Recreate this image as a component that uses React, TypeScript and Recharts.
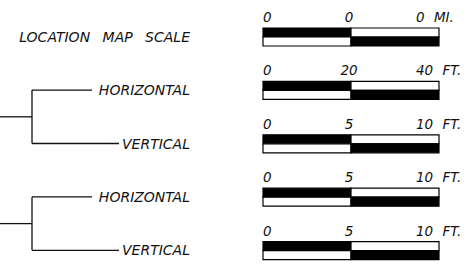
import React from "react";
import { Bar, BarChart, LabelList, XAxis, YAxis } from "recharts";

// one row per scale bar
const rowNames = ["LOCATION MAP SCALE", "HORIZONTAL", "VERTICAL", "HORIZONTAL", "VERTICAL"];
const startTicks = ["0", "0", "0", "0", "0"];
const midTicks = ["0", "20", "5", "5", "5"];
const endTicks = ["0", "40", "10", "10", "10"];
const units = ["MI.", "FT.", "FT.", "FT.", "FT."];
const firstHalf = [1, 1, 1, 1, 1];
const secondHalf = [1, 1, 1, 1, 1];

const data = rowNames.map((name, i) => ({
    row: `r${i}`,
    name,
    a: firstHalf[i],
    b: secondHalf[i],
}));

const W = 474;
const H = 280;
const MARGIN = { top: 10, right: 35, bottom: 3, left: 8 };
const BAND = (H - MARGIN.top - MARGIN.bottom) / rowNames.length;

const labelFont = {
    fontFamily: "DejaVu Sans",
    fontStyle: "italic" as const,
    fontSize: 14,
    fill: "#111",
};
const numFont = {
    fontFamily: "DejaVu Sans",
    fontStyle: "italic" as const,
    fontSize: 13.5,
    fill: "#111",
};

function RowTick(props: any) {
    const { y, index } = props;
    const name = rowNames[index];
    const line = { stroke: "#111", strokeWidth: 1.3 };
    return (
        <g>
            <text
                x={190}
                y={y}
                dy={5}
                textAnchor="end"
                {...labelFont}
                wordSpacing={index === 0 ? 8 : 0}
            >
                {name}
            </text>
            {name === "HORIZONTAL" && (
                <g>
                    <line x1={32} y1={y} x2={92} y2={y} {...line} />
                    <line x1={32} y1={y} x2={32} y2={y + BAND} {...line} />
                    <line x1={0} y1={y + BAND / 2} x2={32} y2={y + BAND / 2} {...line} />
                </g>
            )}
            {name === "VERTICAL" && <line x1={32} y1={y} x2={119} y2={y} {...line} />}
        </g>
    );
}

function StartMidLabel(props: any) {
    const { x, y, width, index } = props;
    return (
        <g>
            <text x={x} y={y - 6} {...numFont}>
                {startTicks[index]}
            </text>
            <text x={x + width - 2} y={y - 6} textAnchor="middle" {...numFont}>
                {midTicks[index]}
            </text>
        </g>
    );
}

function EndLabel(props: any) {
    const { x, y, width, index } = props;
    return (
        <text x={x + width - 23} y={y - 6} wordSpacing={5} {...numFont}>
            {`${endTicks[index]} ${units[index]}`}
        </text>
    );
}

export default function App() {
    return (
        <div
            style={{
                position: "absolute",
                left: 0,
                top: 0,
                width: W,
                height: 265,
                overflow: "hidden",
                background: "#fff",
            }}
        >
            <BarChart
                width={W}
                height={H}
                data={data}
                layout="vertical"
                margin={MARGIN}
                barSize={9}
                barGap={0}
            >
                <XAxis type="number" domain={[0, 2]} hide />
                <YAxis
                    type="category"
                    dataKey="row"
                    width={255}
                    axisLine={false}
                    tickLine={false}
                    interval={0}
                    tick={<RowTick />}
                />
                <Bar dataKey="a" stackId="top" fill="#000" stroke="#000" strokeWidth={1.2} isAnimationActive={false}>
                    <LabelList dataKey="a" content={<StartMidLabel />} />
                </Bar>
                <Bar dataKey="b" stackId="top" fill="#fff" stroke="#000" strokeWidth={1.2} isAnimationActive={false}>
                    <LabelList dataKey="b" content={<EndLabel />} />
                </Bar>
                <Bar dataKey="a" stackId="bot" fill="#fff" stroke="#000" strokeWidth={1.2} isAnimationActive={false} />
                <Bar dataKey="b" stackId="bot" fill="#000" stroke="#000" strokeWidth={1.2} isAnimationActive={false} />
            </BarChart>
        </div>
    );
}
